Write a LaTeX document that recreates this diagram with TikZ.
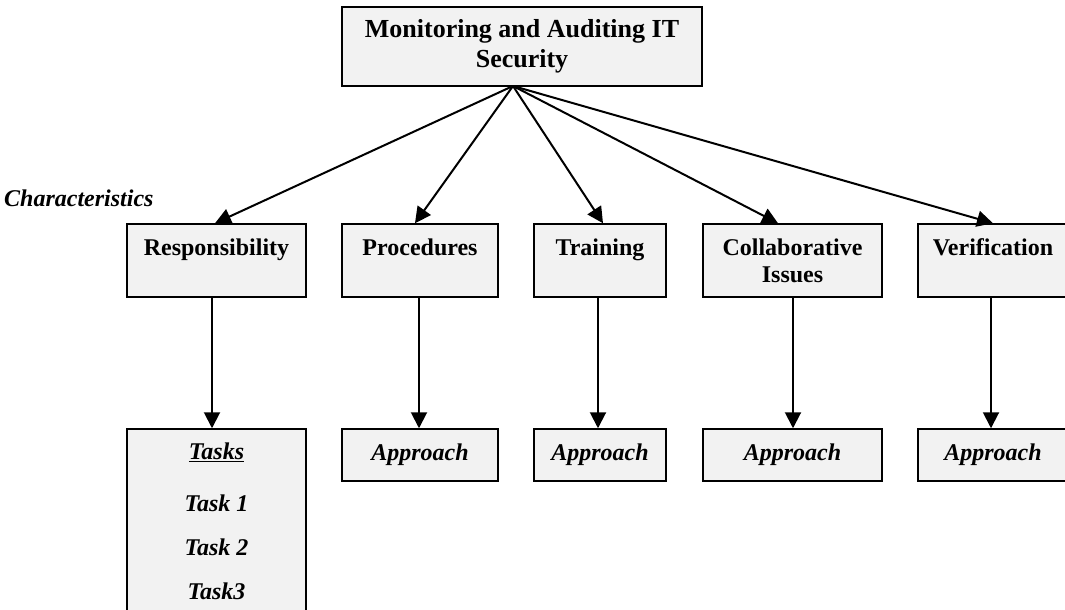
\documentclass[tikz,border=0pt]{standalone}
\usepackage{fontspec}
\setmainfont{Liberation Serif}
\usetikzlibrary{arrows.meta}
\definecolor{boxfill}{HTML}{F2F2F2}
\tikzset{
  box/.style={draw=black, line width=1.5pt, fill=boxfill, inner sep=0pt, align=center,
    font=\bfseries\fontsize{24}{27}\selectfont},
  midbox/.style={box, minimum height=73pt},
  appbox/.style={box, minimum height=52pt, font=\bfseries\itshape\fontsize{24}{27}\selectfont},
  tasktxt/.style={inner sep=0pt, font=\bfseries\itshape\fontsize{24}{27}\selectfont},
  arr/.style={line width=2pt, -{Triangle[length=16pt,width=16pt]}},
}
\begin{document}
\begin{tikzpicture}[x=1pt,y=-1pt]
\useasboundingbox (0,0) rectangle (1065,610);

% top box
\node[box, minimum width=360pt, minimum height=79pt,
      font=\bfseries\fontsize{26}{30}\selectfont] (top) at (522,46.5)
      {Monitoring and Auditing IT\\Security};
\coordinate (apex) at (513,86);

% label
\node[tasktxt, anchor=west] (charlbl) at (4,198) {Characteristics};

% middle row
\node[midbox, minimum width=179pt] (resp) at (216.5,260.5) {Responsibility\\~};
\node[midbox, minimum width=156pt] (proc) at (420,260.5) {Procedures\\~};
\node[midbox, minimum width=132pt] (train) at (600,260.5) {Training\\~};
\node[midbox, minimum width=179pt] (collab) at (792.5,260.5) {Collaborative\\Issues};
\node[midbox, minimum width=150pt] (verif) at (993,260.5) {Verification\\~};

% bottom row
\node[box, minimum width=179pt, minimum height=200pt] (tasks) at (216.5,529) {};
\node[tasktxt] (tasksh) at (216.5,452) {\underline{Tasks}};
\node[tasktxt] (t1) at (216.5,503) {Task 1};
\node[tasktxt] (t2) at (216.5,547) {Task 2};
\node[tasktxt] (t3) at (216.5,591) {Task3};

\node[appbox, minimum width=156pt] (aproc) at (420,455) {Approach};
\node[appbox, minimum width=132pt] (atrain) at (600,455) {Approach};
\node[appbox, minimum width=179pt] (acollab) at (792.5,455) {Approach};
\node[appbox, minimum width=150pt] (averif) at (993,455) {Approach};

% fan-out arrows
\draw[arr] (apex) -- ([xshift=-1.5pt]resp.north);
\draw[arr] (apex) -- ([xshift=-5pt]proc.north);
\draw[arr] (apex) -- ([xshift=3pt]train.north);
\draw[arr] (apex) -- ([xshift=-14.5pt]collab.north);
\draw[arr] (apex) -- (verif.north);

% vertical arrows
\draw[arr] ([xshift=-4.5pt]resp.south) -- ([xshift=-4.5pt]tasks.north);
\draw[arr] ([xshift=-1pt]proc.south) -- ([xshift=-1pt]aproc.north);
\draw[arr] ([xshift=-2pt]train.south) -- ([xshift=-2pt]atrain.north);
\draw[arr] ([xshift=0.5pt]collab.south) -- ([xshift=0.5pt]acollab.north);
\draw[arr] ([xshift=-2pt]verif.south) -- ([xshift=-2pt]averif.north);
\end{tikzpicture}
\end{document}
